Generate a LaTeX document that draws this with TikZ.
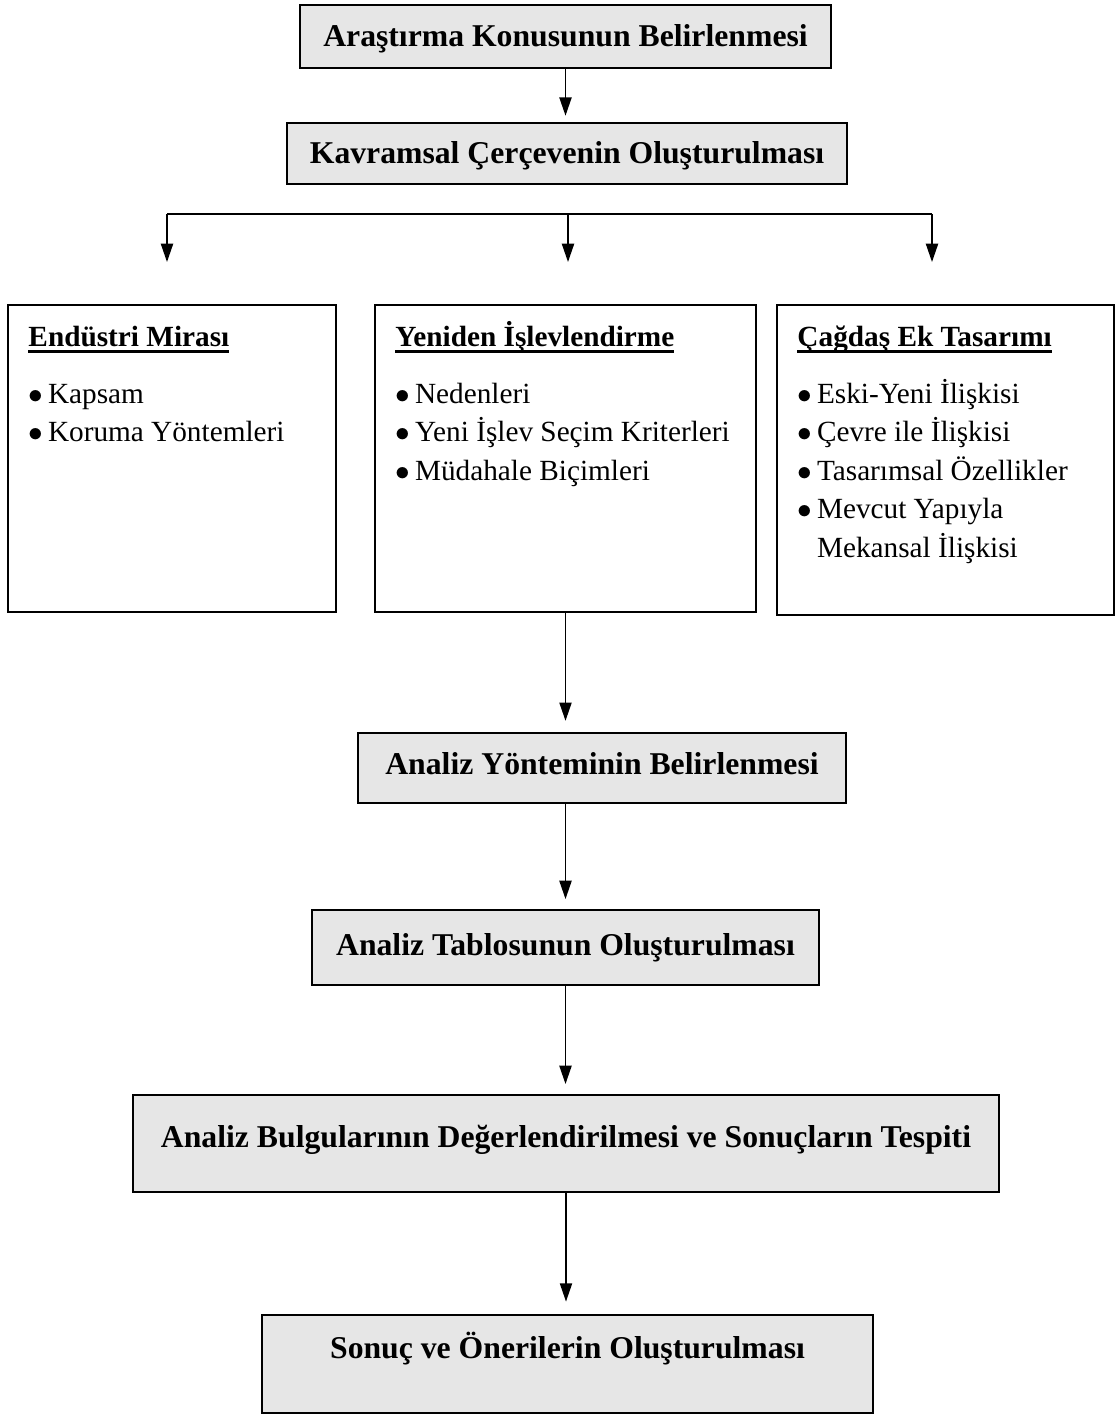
\documentclass[tikz,border=0pt]{standalone}
\usepackage{fontspec}
\setmainfont{Liberation Serif}
\usetikzlibrary{arrows.meta, positioning, calc}
\definecolor{boxgray}{HTML}{E6E6E6}
% bold heading with a thick underline at a fixed depth
\newcommand{\uhead}[1]{\setbox0\hbox{\textbf{#1}}\rlap{\rule[-2.6pt]{\wd0}{1pt}}\box0}
\newcommand{\itm}{$\bullet$\hspace{2pt}}

\begin{document}
\begin{tikzpicture}[
  x=0.41pt, y=-0.41pt,
  stage/.style={rectangle, draw=black, line width=1pt, fill=boxgray,
                font=\fontsize{13}{15}\selectfont\bfseries,
                text height=9pt, text depth=0.4pt, inner sep=0pt},
  group/.style={rectangle, draw=black, line width=1pt, fill=white,
                inner sep=0pt},
  list/.style={anchor=north west, inner sep=0pt, align=left,
               font=\fontsize{12}{15.8}\selectfont},
  arr/.style={-{Triangle[length=7.5pt,width=5pt]}, draw=black, line width=0.6pt},
  ln/.style={draw=black, line width=0.6pt}
]
  \useasboundingbox (0,0) rectangle (1117,1414);

  \node[stage, minimum width=217.7pt, minimum height=25.8pt] (topic) at (565.5,36.5) {Araştırma Konusunun Belirlenmesi};
  \node[stage, minimum width=229.6pt, minimum height=25pt] (frame) at (567,153.5) {Kavramsal Çerçevenin Oluşturulması};

  \node[group, minimum width=134.5pt, minimum height=125.9pt] (heritage) at (172,458.5) {};
  \node[group, minimum width=156.2pt, minimum height=125.9pt] (reuse) at (565.5,458.5) {};
  \node[group, minimum width=138.2pt, minimum height=127.1pt] (addition) at (945.5,460) {};

  \node[list] (heritage-t) at (28,319) {\strut\uhead{Endüstri Mirası}\\[7.4pt]
    \itm Kapsam\\
    \itm Koruma Yöntemleri};
  \node[list] (reuse-t) at (395,319) {\strut\uhead{Yeniden İşlevlendirme}\\[7.4pt]
    \itm Nedenleri\\
    \itm Yeni İşlev Seçim Kriterleri\\
    \itm Müdahale Biçimleri};
  \node[list] (addition-t) at (797,319) {\strut\uhead{Çağdaş Ek Tasarımı}\\[7.4pt]
    \itm Eski-Yeni İlişkisi\\
    \itm Çevre ile İlişkisi\\
    \itm Tasarımsal Özellikler\\
    \itm Mevcut Yapıyla\\
    \phantom{\itm}Mekansal İlişkisi};

  \node[stage, minimum width=200.1pt, minimum height=28.7pt, text depth=3.6pt] (method) at (602,768) {Analiz Yönteminin Belirlenmesi};
  \node[stage, minimum width=207.9pt, minimum height=30.75pt, text depth=2.4pt] (tbl) at (565.5,947.5) {Analiz Tablosunun Oluşturulması};
  \node[stage, minimum width=355.1pt, minimum height=39.8pt, text depth=5.8pt] (findings) at (566,1143.5) {Analiz Bulgularının Değerlendirilmesi ve Sonuçların Tespiti};
  \node[stage, minimum width=250.5pt, minimum height=40.2pt, text depth=13.6pt] (result) at (567.5,1364) {Sonuç ve Önerilerin Oluşturulması};

  % branch below the frame box
  \coordinate (bl) at (167,214);  \coordinate (bm) at (568,214);  \coordinate (br) at (932,214);
  \coordinate (el) at (167,262);  \coordinate (em) at (568,262);  \coordinate (er) at (932,262);
  \draw[ln] (bl) -- (br);
  \draw[arr] (bl) -- (el); \draw[arr] (bm) -- (em); \draw[arr] (br) -- (er);

  \draw[arr, shorten >=2.5pt] (topic.south) -- (topic.south |- frame.north);
  \draw[arr, shorten >=4.5pt] (reuse.south) -- (reuse.south |- method.north);
  \draw[arr, shorten >=4pt] (method.south -| tbl.north) -- (tbl.north);
  \draw[arr, shorten >=4pt] (tbl.south) -- (tbl.south |- findings.north);
  \draw[arr, shorten >=5pt] (findings.south) -- (findings.south |- result.north);
\end{tikzpicture}
\end{document}
